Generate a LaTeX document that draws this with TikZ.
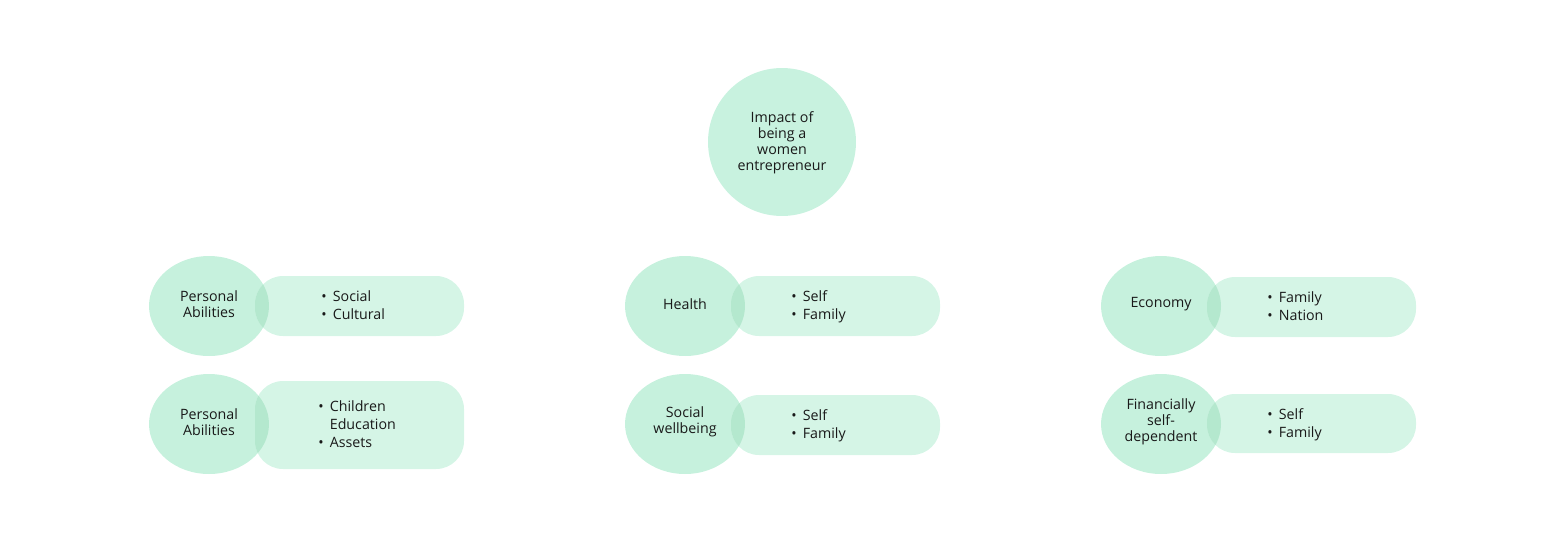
\documentclass[tikz,border=0pt]{standalone}
\usepackage{fontspec}
\setmainfont{Open Sans}
\begin{document}
\begin{tikzpicture}[x=0.02cm,y=-0.02cm,
  ellcol/.style={fill={rgb,255:red,198;green,241;blue,221}},
  rectcol/.style={fill={rgb,255:red,213;green,245;blue,230}},
  ovcol/.style={fill={rgb,255:red,180;green,232;blue,206}},
  lbl/.style={align=center,font=\fontsize{8.1pt}{9.1pt}\selectfont,text={rgb,255:red,25;green,25;blue,25},inner sep=0pt},
  blt/.style={anchor=west,font=\fontsize{8.1pt}{10.2pt}\selectfont,text={rgb,255:red,25;green,25;blue,25},inner sep=0pt}]
\useasboundingbox (0,0) rectangle (1565,542);
\newcommand\grp[8]{%
  \fill[ellcol] (#2,#3) ellipse [x radius=1.2cm, y radius=1cm];
  \fill[rectcol, rounded corners=0.56cm] (#2+46,#4) rectangle (#2+255,#5);
  \begin{scope}
    \clip (#2,#3) ellipse [x radius=1.2cm, y radius=1cm];
    \fill[ovcol, rounded corners=0.56cm] (#2+46,#4) rectangle (#2+255,#5);
  \end{scope}
  \node[lbl] (#1) at (#2,#3-2) {#6};
  \node[blt] (#1-b) at (#8,{(#4+#5)/2+1}) {\begin{tabular}{@{}l@{\hspace{3.5pt}}l@{}}#7\end{tabular}};
}
% top circle
\fill[fill={rgb,255:red,200;green,242;blue,223}] (782,142) circle [radius=1.48cm];
\node[lbl] (top) at (782,143) {Impact of\\being a\\women\\entrepreneur};
% left
\grp{pa1}{209}{306}{276}{336}{Personal\\Abilities}{•&Social\\•&Cultural}{321}
\grp{pa2}{209}{424}{381}{469}{Personal\\Abilities}{•&Children\\&Education\\•&Assets}{318}
% middle
\grp{hl}{685}{306}{276}{336}{Health}{•&Self\\•&Family}{791}
\grp{sw}{685}{424}{395}{455}{Social\\wellbeing}{•&Self\\•&Family}{791}
% right
\grp{ec}{1161}{306}{277}{337}{Economy}{•&Family\\•&Nation}{1267}
\grp{fs}{1161}{424}{394}{453}{Financially\\self-\\dependent}{•&Self\\•&Family}{1267}
\end{tikzpicture}
\end{document}
